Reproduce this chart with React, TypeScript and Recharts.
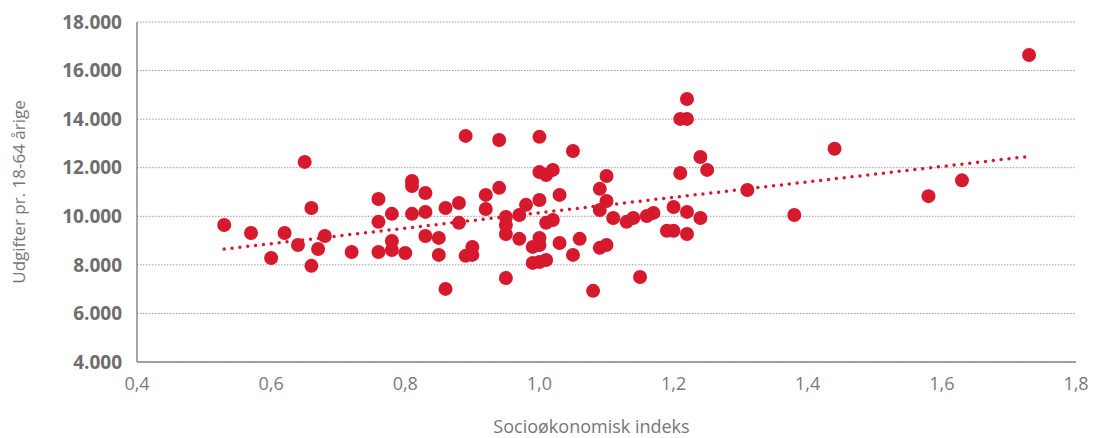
import React from 'react';
import { ScatterChart, Scatter, XAxis, YAxis, CartesianGrid, ReferenceLine } from 'recharts';

// socioøkonomisk indeks per kommune
const indeks = [
  0.53, 0.57, 0.6, 0.62, 0.64, 0.65, 0.66, 0.66, 0.67, 0.68,
  0.72, 0.76, 0.76, 0.76, 0.78, 0.78, 0.78, 0.8, 0.81, 0.81,
  0.81, 0.83, 0.83, 0.83, 0.85, 0.85, 0.86, 0.86, 0.88, 0.88,
  0.89, 0.89, 0.9, 0.9, 0.92, 0.92, 0.94, 0.94, 0.95, 0.95,
  0.95, 0.95, 0.97, 0.97, 0.98, 0.99, 0.99, 1.0, 1.0, 1.0,
  1.0, 1.0, 1.0, 1.01, 1.01, 1.01, 1.02, 1.02, 1.03, 1.03,
  1.05, 1.05, 1.06, 1.08, 1.09, 1.09, 1.09, 1.1, 1.1, 1.1,
  1.11, 1.13, 1.14, 1.15, 1.16, 1.17, 1.19, 1.2, 1.2, 1.21,
  1.21, 1.22, 1.22, 1.22, 1.22, 1.24, 1.24, 1.25, 1.31, 1.38,
  1.44, 1.58, 1.63, 1.73,
];

// udgifter pr. 18-64 årige (kr.)
const udgifter = [
  9640, 9310, 8280, 9310, 8820, 12240, 10340, 7960, 8650, 9190,
  8530, 10710, 9770, 8530, 10100, 8980, 8610, 8490, 11450, 11250,
  10100, 10960, 10180, 9190, 9110, 8410, 10340, 7010, 10550, 9730,
  13310, 8370, 8410, 8740, 10880, 10300, 13140, 11170, 9970, 9640,
  9270, 7460, 10050, 9070, 10470, 8740, 8080, 13270, 11820, 10670,
  9110, 8820, 8120, 11700, 9730, 8200, 11910, 9850, 10880, 8900,
  12690, 8410, 9070, 6930, 11130, 10260, 8700, 11660, 10630, 8820,
  9930, 9770, 9930, 7500, 10010, 10140, 9400, 9400, 10380, 14010,
  11780, 14830, 14010, 10180, 9270, 12440, 9930, 11910, 11080, 10050,
  12780, 10830, 11480, 16640,
];

// lineær tendenslinje (start, slut)
const trendX = [0.53, 1.725];
const trendY = [8650, 12450];

const xTicks = [0.4, 0.6, 0.8, 1.0, 1.2, 1.4, 1.6, 1.8];
const yTicks = [4000, 6000, 8000, 10000, 12000, 14000, 16000, 18000];

const points = indeks.map((x, i) => ({ x, y: udgifter[i] }));

const RED = '#d7192e';
const GREY = '#6e6e6e';

const fmtX = (v: number) => v.toFixed(1).replace('.', ',');
const fmtY = (v: number) => String(v).replace(/\B(?=(\d{3})+(?!\d))/g, '.');

const Dot = (props: any) => <circle cx={props.cx} cy={props.cy} r={7} fill={RED} />;

const YLabel = (props: any) => {
  const vb = props.viewBox || { x: 0, y: 22, width: 137, height: 340 };
  const cx = vb.x + 25;
  const cy = vb.y + vb.height / 2;
  return (
    <text x={cx} y={cy} transform={`rotate(-90, ${cx}, ${cy})`} textAnchor="middle"
      fill="#777" fontSize={17} fontFamily="'Open Sans', sans-serif">
      Udgifter pr. 18-64 årige
    </text>
  );
};

const XLabel = (props: any) => {
  const vb = props.viewBox || { x: 137, y: 362, width: 939, height: 76 };
  return (
    <text x={vb.x + vb.width / 2 - 15} y={vb.y + 71} textAnchor="middle"
      fill="#777" fontSize={18} fontFamily="'Open Sans', sans-serif">
      Socioøkonomisk indeks
    </text>
  );
};

export default function App() {
  return (
    <div style={{ position: 'absolute', left: 0, top: 0 }}>
      <ScatterChart width={1093} height={438} margin={{ top: 22, right: 17, bottom: 0, left: 0 }}>
        <CartesianGrid vertical={false} stroke="#9a9a9a" strokeDasharray="1.5 1.5" />
        <XAxis
          type="number"
          dataKey="x"
          domain={[0.4, 1.8]}
          ticks={xTicks}
          tickFormatter={fmtX}
          height={76}
          tickLine={false}
          tickSize={0}
          tickMargin={15}
          axisLine={{ stroke: '#8a8a8a', strokeWidth: 1.5 }}
          tick={{ fill: '#7a7a7a', fontSize: 18, fontFamily: "'Open Sans', sans-serif" }}
          label={<XLabel />}
        />
        <YAxis
          type="number"
          dataKey="y"
          domain={[4000, 18000]}
          ticks={yTicks}
          tickFormatter={fmtY}
          width={137}
          tickLine={false}
          tickSize={0}
          tickMargin={15}
          axisLine={{ stroke: '#8a8a8a', strokeWidth: 1.5 }}
          tick={{ fill: GREY, fontSize: 19, fontWeight: 700, fontFamily: "'Open Sans', sans-serif" }}
          label={<YLabel />}
        />
        <ReferenceLine
          segment={[{ x: trendX[0], y: trendY[0] }, { x: trendX[1], y: trendY[1] }]}
          stroke={RED}
          strokeWidth={3.5}
          strokeDasharray="0 7.9"
          strokeLinecap="round"
        />
        <Scatter data={points} fill={RED} shape={Dot} isAnimationActive={false} />
      </ScatterChart>
    </div>
  );
}
